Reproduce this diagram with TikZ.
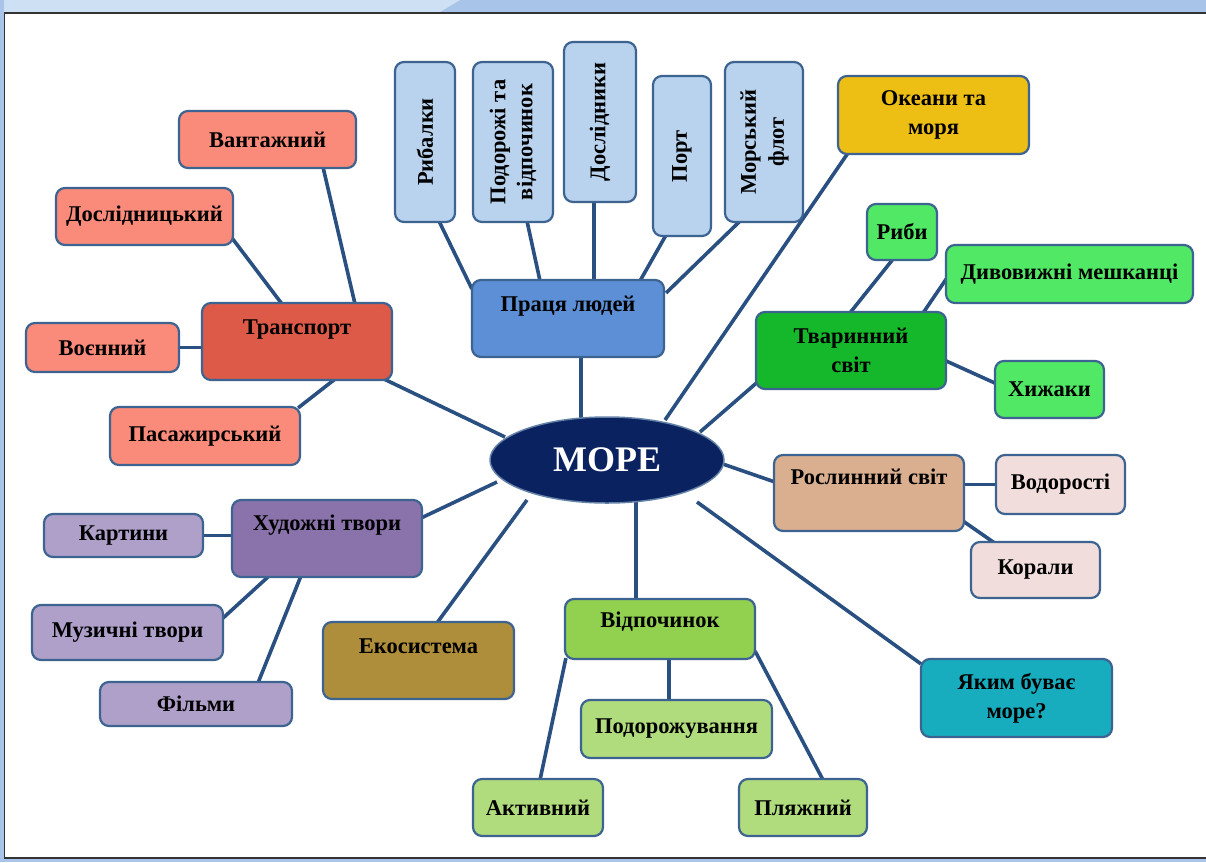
\documentclass[tikz,border=0pt]{standalone}
\usepackage{fontspec}
\usepackage{graphicx}
\setmainfont{Liberation Serif}
\usetikzlibrary{calc,shapes.geometric}
\pgfdeclarelayer{bottom}
\pgfdeclarelayer{background}
\pgfsetlayers{bottom,background,main}
\definecolor{bordc}{HTML}{3D6391}
\definecolor{linec}{HTML}{2A5082}
\definecolor{topblue}{HTML}{B9D3EE}
\definecolor{pracac}{HTML}{5C8FD6}
\definecolor{okc}{HTML}{EDBE14}
\definecolor{trc}{HTML}{DD5A48}
\definecolor{salm}{HTML}{FA8A7A}
\definecolor{navy}{HTML}{0A2260}
\definecolor{tvc}{HTML}{15B82A}
\definecolor{lgreen}{HTML}{50E865}
\definecolor{tan}{HTML}{D9AF8F}
\definecolor{pinkc}{HTML}{F1DEDC}
\definecolor{purp}{HTML}{8A72AA}
\definecolor{lpurp}{HTML}{AFA0CA}
\definecolor{olive}{HTML}{AE8E3A}
\definecolor{vidc}{HTML}{92D050}
\definecolor{lgreen2}{HTML}{B0DC7E}
\definecolor{teal}{HTML}{17ADBE}
\definecolor{framec}{HTML}{A8C4E9}
\begin{document}
\begin{tikzpicture}[x=1pt,y=-1pt,
  box/.style={draw=bordc, line width=2.2pt, rounded corners=9pt,
    font=\bfseries\fontsize{22.5}{29}\selectfont, align=center, inner sep=2pt},
  lift/.style={text height=16pt, text depth=#1},
  conn/.style={draw=linec, line width=3.6pt}]
\useasboundingbox (0,0) rectangle (1206,862);
\begin{pgfonlayer}{bottom}
\fill[white] (0,0) rectangle (1206,862);
\fill[framec] (0,0) rectangle (1206,12);
\fill[topblue!70!white] (0,0) -- (460,0) -- (440,12) -- (0,12) -- cycle;
\fill[framec] (0,0) rectangle (4,862);
\fill[framec] (0,858) rectangle (1206,862);
\draw[black!80, line width=1.5pt] (1206,13) -- (4.5,13) -- (4.5,858) -- (1206,858);
\end{pgfonlayer}

% centre
\node[ellipse, draw=bordc!80!white, line width=1.5pt, fill=navy, text=white,
  minimum width=234pt, minimum height=86pt,
  font=\bfseries\fontsize{36}{40}\selectfont] (moro) at (607,460) {МОРЕ};

% work
\node[box, fill=pracac, minimum width=192pt, minimum height=77pt, lift=31pt] (prac) at (568,318.5) {Праця людей};
\node[box, fill=topblue, minimum width=60pt, minimum height=160pt] (ryb) at (425,142) {\rotatebox{90}{Рибалки}};
\node[box, fill=topblue, minimum width=80pt, minimum height=160pt] (pod) at (513,142) {\rotatebox{90}{\begin{tabular}{@{}c@{}}Подорожі та\\[-2pt]відпочинок\end{tabular}}};
\node[box, fill=topblue, minimum width=72pt, minimum height=160pt] (dos) at (600,122) {\rotatebox{90}{Дослідники}};
\node[box, fill=topblue, minimum width=58pt, minimum height=160pt] (port) at (682,156) {\rotatebox{90}{Порт}};
\node[box, fill=topblue, minimum width=78pt, minimum height=160pt] (mf) at (764,142) {\rotatebox{90}{\begin{tabular}{@{}c@{}}Морський\\[-1pt]флот\end{tabular}}};

% oceans
\node[box, fill=okc, minimum width=191pt, minimum height=78pt] (ok) at (933.5,115) {Океани та\\моря};

% transport
\node[box, fill=trc, minimum width=190pt, minimum height=77pt, lift=31pt] (tr) at (297,341.5) {Транспорт};
\node[box, fill=salm, minimum width=177pt, minimum height=57pt] (van) at (267.5,139.5) {Вантажний};
\node[box, fill=salm, minimum width=177pt, minimum height=57pt] (dosl) at (144.5,216.5) {Дослідницький};
\node[box, fill=salm, minimum width=153pt, minimum height=49pt] (voen) at (102.5,347.5) {Воєнний};
\node[box, fill=salm, minimum width=190pt, minimum height=58pt] (pas) at (205,436) {Пасажирський};

% animals
\node[box, fill=tvc, minimum width=190pt, minimum height=77pt] (tv) at (851,350.5) {Тваринний\\світ};
\node[box, fill=lgreen, minimum width=70pt, minimum height=56pt] (ryby) at (902,232) {Риби};
\node[box, fill=lgreen, minimum width=247pt, minimum height=58pt] (dyv) at (1069.5,274) {Дивовижні мешканці};
\node[box, fill=lgreen, minimum width=109pt, minimum height=57pt] (khyzh) at (1049.5,389.5) {Хижаки};

% plants
\node[box, fill=tan, minimum width=190pt, minimum height=76pt, lift=33pt] (ro) at (869,493) {Рослинний світ};
\node[box, fill=pinkc, minimum width=129pt, minimum height=59pt] (vod) at (1060.5,484.5) {Водорості};
\node[box, fill=pinkc, minimum width=129pt, minimum height=56pt] (kor) at (1035.5,570) {Корали};

% arts
\node[box, fill=purp, minimum width=190pt, minimum height=77pt, lift=33pt] (hud) at (327,538.5) {Художні твори};
\node[box, fill=lpurp, minimum width=159pt, minimum height=43pt] (kart) at (123.5,535.5) {Картини};
\node[box, fill=lpurp, minimum width=191pt, minimum height=55pt] (muz) at (127.5,632.5) {Музичні твори};
\node[box, fill=lpurp, minimum width=192pt, minimum height=44pt] (film) at (196,704) {Фільми};

% ecosystem
\node[box, fill=olive, minimum width=191pt, minimum height=77pt, lift=31pt] (eko) at (418.5,660.5) {Екосистема};

% rest
\node[box, fill=vidc, minimum width=190pt, minimum height=60pt, lift=19pt] (vid) at (660,629) {Відпочинок};
\node[box, fill=lgreen2, minimum width=191pt, minimum height=58pt] (podor) at (676.5,729) {Подорожування};
\node[box, fill=lgreen2, minimum width=130pt, minimum height=57pt] (akt) at (538,807.5) {Активний};
\node[box, fill=lgreen2, minimum width=128pt, minimum height=57pt] (plyazh) at (803,807.5) {Пляжний};

% what sea is like
\node[box, fill=teal, minimum width=191pt, minimum height=78pt] (yak) at (1016.5,698) {Яким буває\\море?};

\begin{pgfonlayer}{background}
% centre spokes
\draw[conn] ([shift={(-26,-30)}]moro.center) -- ([shift={(13,-5)}]prac.south);
\draw[conn] ([shift={(58,-40)}]moro.center) -- ([shift={(11,-2)}]ok.south west);
\draw[conn] ([shift={(93,-28)}]moro.center) -- ([shift={(6,-11)}]tv.south west);
\draw[conn] ([shift={(110,2)}]moro.center) -- ([shift={(2,-11)}]ro.west);
\draw[conn] ([shift={(90,42)}]moro.center) -- ([shift={(1,6)}]yak.north west);
\draw[conn] ([shift={(29,30)}]moro.center) -- ([shift={(-24,2)}]vid.north);
\draw[conn] ([shift={(-80,40)}]moro.center) -- ([shift={(18.5,2)}]eko.north);
\draw[conn] ([shift={(-110,22)}]moro.center) -- ([shift={(-2,-20.5)}]hud.east);
\draw[conn] ([shift={(-102,-23)}]moro.center) -- ([shift={(-9,-2)}]tr.south east);
% work
\draw[conn] ([shift={(14,-2)}]ryb.south) -- ([shift={(1,10)}]prac.north west);
\draw[conn] ([shift={(14,-2)}]pod.south) -- ([shift={(-28,2)}]prac.north);
\draw[conn] ([shift={(-6,-2)}]dos.south) -- ([shift={(26,2)}]prac.north);
\draw[conn] ([shift={(-16,-2)}]port.south) -- ([shift={(72,2)}]prac.north);
\draw[conn] ([shift={(-24,-2)}]mf.south) -- ([shift={(1,14)}]prac.north east);
% transport
\draw[conn] ([shift={(55.5,-2)}]van.south) -- ([shift={(58,2)}]tr.north);
\draw[conn] ([shift={(-2,-8)}]dosl.south east) -- ([shift={(81,2)}]tr.north west);
\draw[conn] ([xshift=-2]voen.east) -- ([xshift=2]tr.west |- voen.east);
\draw[conn] ([shift={(-3,2)}]pas.north east) -- ([shift={(38,-2)}]tr.south);
% animals
\draw[conn] ([shift={(-9,-2)}]ryby.south) -- ([shift={(-1,2)}]tv.north);
\draw[conn] ([shift={(2,4)}]dyv.west) -- ([shift={(-24,2)}]tv.north east);
\draw[conn] ([shift={(2,-6)}]khyzh.west) -- ([shift={(-2,10)}]tv.east);
% plants
\draw[conn] ([xshift=2]vod.west) -- ([xshift=-2]ro.east |- vod.west);
\draw[conn] ([shift={(26,3)}]kor.north west) -- ([shift={(-2,-11)}]ro.south east);
% arts
\draw[conn] ([xshift=-2]kart.east) -- ([xshift=2]hud.west |- kart.east);
\draw[conn] ([shift={(-2,15)}]muz.north east) -- ([shift={(38,-2)}]hud.south west);
\draw[conn] ([shift={(62,2)}]film.north) -- ([shift={(70,-2)}]hud.south west);
% rest
\draw[conn] ([shift={(2,2)}]akt.north) -- ([shift={(2,-2)}]vid.south west);
\draw[conn] ([shift={(-7.5,2)}]podor.north) -- ([shift={(9,-2)}]vid.south);
\draw[conn] ([shift={(20,2)}]plyazh.north) -- ([shift={(-1,-9)}]vid.south east);
\end{pgfonlayer}
\end{tikzpicture}
\end{document}
